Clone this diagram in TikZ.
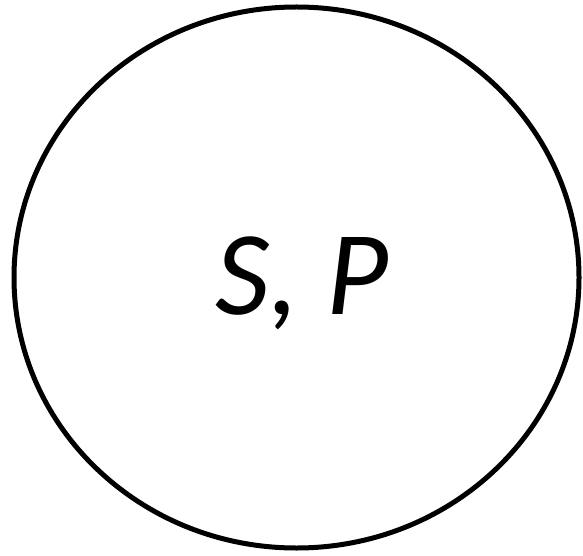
\documentclass[tikz,border=0pt]{standalone}
\usepackage{fontspec}
\setmainfont{Carlito}
\usepackage{tikz}
\usetikzlibrary{shapes.geometric}

\begin{document}
\begin{tikzpicture}[
  oval/.style={draw,ellipse,line width=5pt,minimum width=565pt,minimum height=541pt,inner sep=0pt},
  lab/.style={font=\fontsize{120}{132}\selectfont\itshape}]
 \useasboundingbox (0,0) rectangle (583pt,555pt);
 % ---- set ----
 \node[oval] (sp) at (296.5pt,277.5pt) {};
 \node[lab] (splab) at (302pt,272pt) {S, P};
\end{tikzpicture}
\end{document}
